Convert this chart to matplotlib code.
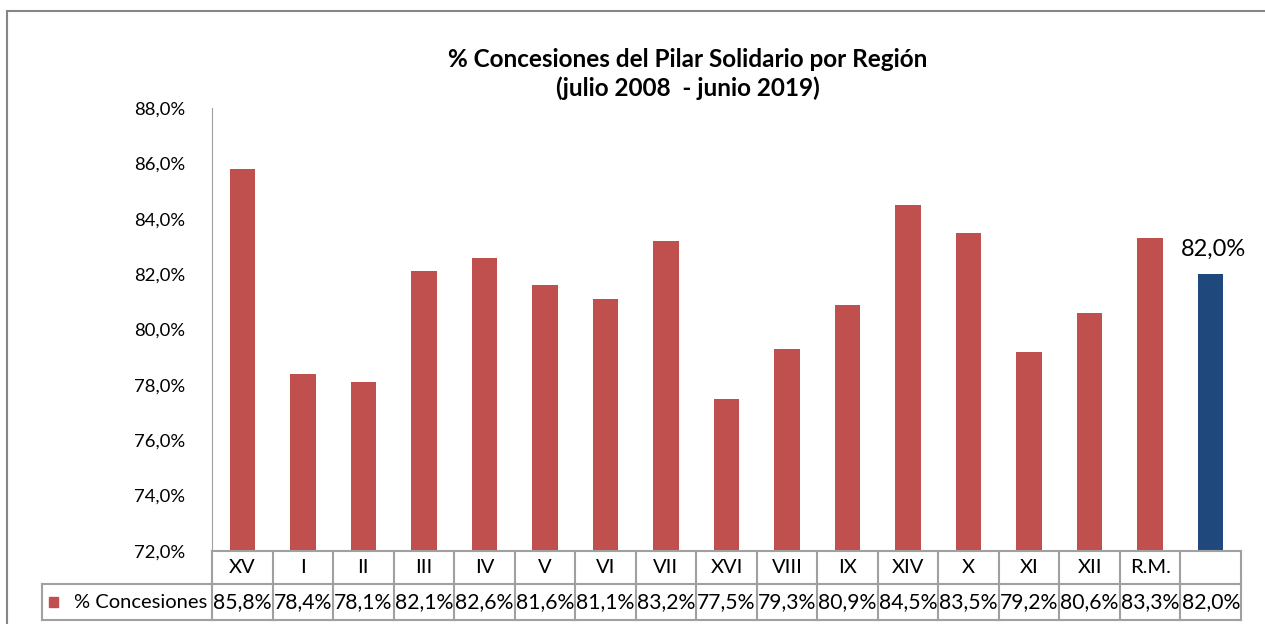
import matplotlib
matplotlib.use("Agg")
import matplotlib.pyplot as plt
import matplotlib.transforms as mtransforms
from matplotlib.patches import Rectangle
from matplotlib.lines import Line2D

# ---- data ----
regions = ["XV", "I", "II", "III", "IV", "V", "VI", "VII", "XVI", "VIII",
           "IX", "XIV", "X", "XI", "XII", "R.M.", ""]
values = [85.8, 78.4, 78.1, 82.1, 82.6, 81.6, 81.1, 83.2, 77.5, 79.3,
          80.9, 84.5, 83.5, 79.2, 80.6, 83.3, 82.0]
y_ticks = [72, 74, 76, 78, 80, 82, 84, 86, 88]
series_name = "% Concesiones"
title = "% Concesiones del Pilar Solidario por Región\n(julio 2008  - junio 2019)"

RED = "#c0504d"
BLUE = "#1f497d"
GRID = "#a0a0a0"

plt.rcParams["font.family"] = ["Lato", "DejaVu Sans"]

fig = plt.figure(figsize=(12.65, 6.24), dpi=100)
W, H = 1265, 624
ax = fig.add_axes([212 / W, 1 - 551 / H, (1241 - 212) / W, (551 - 108) / H])

n = len(values)
colors = [RED] * (n - 1) + [BLUE]
x = list(range(n))
ax.bar(x, [v - y_ticks[0] for v in values], bottom=y_ticks[0], width=0.42,
       color=colors, zorder=2)

ax.set_xlim(-0.5, n - 0.5)
ax.set_ylim(y_ticks[0], y_ticks[-1])
ax.set_yticks(y_ticks)
ax.set_yticklabels([f"{t:.1f}%".replace(".", ",") for t in y_ticks], fontsize=13.3)
ax.tick_params(axis="y", length=0, pad=19)
ax.set_xticks([])
for s in ["top", "right", "bottom"]:
    ax.spines[s].set_visible(False)
ax.spines["left"].set_color(GRID)

# label on total bar
ax.text(x[-1] + 0.05, values[-1] + 0.5, f"{values[-1]:.1f}%".replace(".", ","),
        ha="center", va="bottom", fontsize=17)

# title
fig.text(688 / W, 1 - 74 / H, title, ha="center", va="center",
         fontsize=17.5, fontweight="bold", linespacing=1.25)

# ---- data table below the axes ----
trans = mtransforms.blended_transform_factory(ax.transData, ax.transAxes)
ax_h = 551 - 108
r1 = -(584 - 551) / ax_h
r2 = -(620 - 551) / ax_h
leg_left = ax.transAxes.inverted().transform(fig.transFigure.transform((42 / W, 0)))[0]

def hline(x0, x1, y, tr):
    ax.add_line(Line2D([x0, x1], [y, y], color=GRID, lw=1.5, transform=tr,
                       clip_on=False))

def vline(xx, y0, y1, tr):
    ax.add_line(Line2D([xx, xx], [y0, y1], color=GRID, lw=1.5, transform=tr,
                       clip_on=False))

hline(0, 1, 0, ax.transAxes)
hline(leg_left, 1, r1, ax.transAxes)
hline(leg_left, 1, r2, ax.transAxes)
vline(leg_left, r1, r2, ax.transAxes)
for i in range(n + 1):
    vline(i - 0.5, 0, r2, trans)

for i, (reg, v) in enumerate(zip(regions, values)):
    ax.text(i, r1 / 2, reg, transform=trans, ha="center", va="center",
            fontsize=14.5)
    ax.text(i, (r1 + r2) / 2, f"{v:.1f}%".replace(".", ","), transform=trans,
            ha="center", va="center", fontsize=15.2)

# legend cell
ax.text(leg_left + 0.031, (r1 + r2) / 2, series_name, transform=ax.transAxes,
        ha="left", va="center", fontsize=14.5)
ax.add_patch(Rectangle((leg_left + 0.0066, (r1 + r2) / 2 - 0.011), 0.0088,
                       0.022, color=RED, transform=ax.transAxes, clip_on=False))

# outer chart border
fig.patches.append(Rectangle((7 / W, -0.05), 1.2, 1 - 11 / H + 0.05,
                             transform=fig.transFigure, fill=False,
                             edgecolor="#868686", lw=1.5))

fig.savefig("out.png", dpi=100)
